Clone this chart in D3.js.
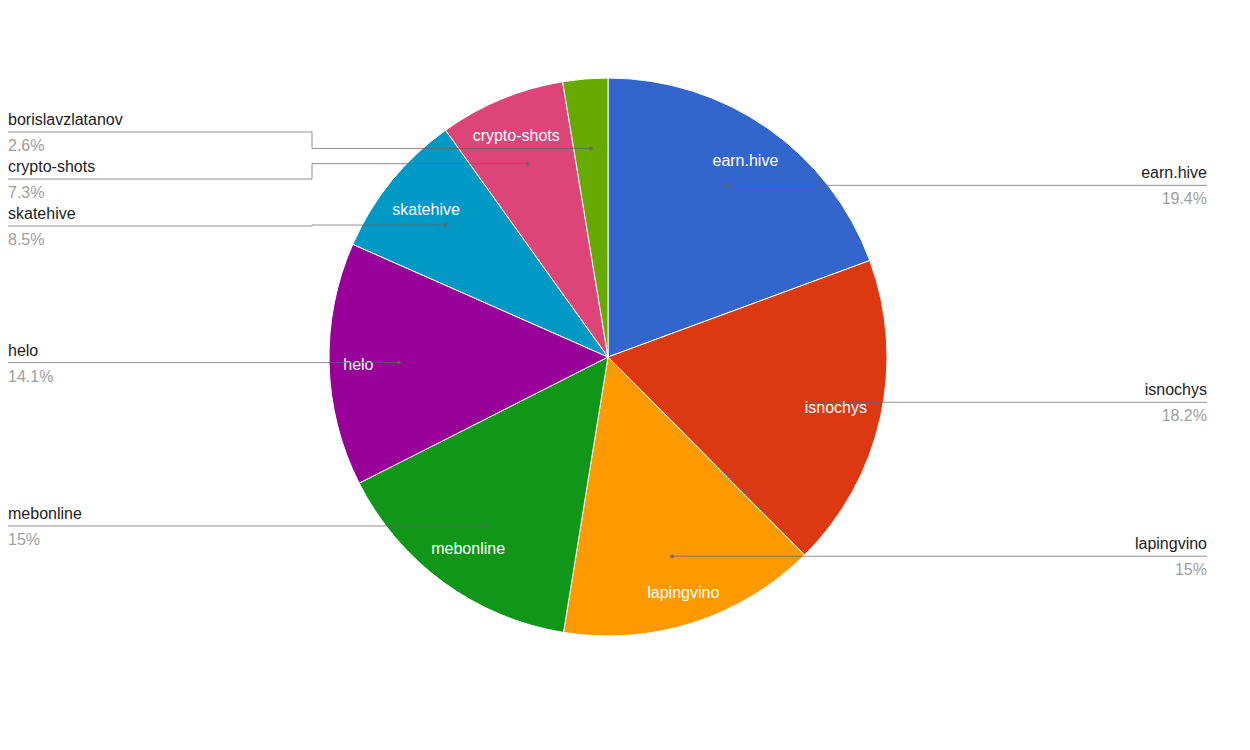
<!DOCTYPE html>
<html lang="en">
<head>
    <meta charset="UTF-8">
    <title>Pie</title>
    <script type="text/javascript" src="https://cdn.jsdelivr.net/npm/d3@7"></script>
    <style>
        body{
            margin: 0;
            background: #fff;
        }
        text{
            font-family: "Liberation Sans", Arial, sans-serif;
            font-size: 16px;
        }
        .name{
            fill: #222;
        }
        .pct{
            fill: #9e9e9e;
        }
        .inner{
            fill: #fff;
        }
        .leader{
            fill: none;
            stroke: #636363;
            stroke-opacity: 0.7;
        }
    </style>
</head>
<body>
<div id="chart"></div>
<script type="text/javascript">
    var names = ["earn.hive", "isnochys", "lapingvino", "mebonline", "helo", "skatehive", "crypto-shots", "borislavzlatanov"];
    var shares = [19.4, 18.2, 15, 15, 14.1, 8.5, 7.3, 2.6];
    var colors = ["#3366cc", "#dc3912", "#ff9900", "#109618", "#990099", "#0099c6", "#dd4477", "#66aa00"];

    var width = 1250, height = 750;
    var cx = 608, cy = 357, R = 279;
    var leftX = 8, rightX = 1207;
    var gap = 47;

    var svg = d3.select("#chart").append("svg")
            .attr("width", width)
            .attr("height", height);

    var data = names.map(function(n, i){
        return {name: n, value: shares[i], color: colors[i]};
    });

    var pie = d3.pie().sort(null).value(function(d){ return d.value; });
    var arcs = pie(data);
    var arc = d3.arc().innerRadius(0).outerRadius(R);

    var g = svg.append("g").attr("transform", "translate(" + cx + "," + cy + ")");

    g.selectAll("path.slice")
            .data(arcs)
            .enter()
            .append("path")
            .attr("class", "slice")
            .attr("d", arc)
            .attr("fill", function(d){ return d.data.color; })
            .attr("stroke", "#fff")
            .attr("stroke-width", 1);

    // anchor point for each leader line
    arcs.forEach(function(d){
        var a = (d.startAngle + d.endAngle) / 2;
        d.mid = a;
        d.dx = cx + Math.sin(a) * R * 0.75;
        d.dy = cy - Math.cos(a) * R * 0.75;
        d.side = d.dx < cx ? "left" : "right";
    });

    function spread(items){
        items.sort(function(a, b){ return a.dy - b.dy; });
        var groups = items.map(function(d){ return {members: [d], center: d.dy}; });
        var merged = true;
        while(merged){
            merged = false;
            for(var i = 0; i < groups.length - 1; i++){
                var a = groups[i], b = groups[i + 1];
                var aBottom = a.center + (a.members.length - 1) * gap / 2;
                var bTop = b.center - (b.members.length - 1) * gap / 2;
                if(bTop - aBottom < gap){
                    var m = a.members.concat(b.members);
                    groups.splice(i, 2, {members: m, center: d3.mean(m, function(d){ return d.dy; })});
                    merged = true;
                    break;
                }
            }
        }
        groups.forEach(function(gr){
            gr.members.forEach(function(d, k){
                d.ly = gr.center + (k - (gr.members.length - 1) / 2) * gap;
            });
        });
    }
    spread(arcs.filter(function(d){ return d.side == "left"; }));
    spread(arcs.filter(function(d){ return d.side == "right"; }));

    var elbowL = cx - R - 17, elbowR = cx + R + 17;

    svg.selectAll("path.leader")
            .data(arcs)
            .enter()
            .append("path")
            .attr("class", "leader")
            .attr("d", function(d){
                var p = d3.path();
                if(d.side == "left"){
                    p.moveTo(leftX, d.ly);
                    p.lineTo(elbowL, d.ly);
                } else {
                    p.moveTo(rightX, d.ly);
                    p.lineTo(elbowR, d.ly);
                }
                p.lineTo(d.side == "left" ? elbowL : elbowR, d.dy);
                p.lineTo(d.dx, d.dy);
                return p.toString();
            });

    svg.selectAll("circle.dot")
            .data(arcs)
            .enter()
            .append("circle")
            .attr("cx", function(d){ return d.dx; })
            .attr("cy", function(d){ return d.dy; })
            .attr("r", 2)
            .attr("fill", "#636363")
            .attr("fill-opacity", 0.8);

    // labels inside slices, pushed out until the far corner nears the rim
    var inner = g.selectAll("text.inner")
            .data(arcs.filter(function(d){ return d.data.value >= 5; }))
            .enter()
            .append("text")
            .attr("class", "inner")
            .attr("text-anchor", "middle")
            .text(function(d){ return d.data.name; });

    inner.each(function(d){
        var w = this.getComputedTextLength(), h = 12;
        var ux = Math.sin(d.mid), uy = -Math.cos(d.mid);
        var ox = (ux < 0 ? -1 : 1) * w / 2, oy = (uy < 0 ? -1 : 1) * h / 2;
        var lim = R * 0.95;
        var b = ux * ox + uy * oy, c = ox * ox + oy * oy - lim * lim;
        var dist = -b + Math.sqrt(b * b - c);
        d3.select(this)
                .attr("x", ux * dist)
                .attr("y", uy * dist + 6);
    });

    var outer = svg.selectAll("g.outer")
            .data(arcs)
            .enter()
            .append("g")
            .attr("class", "outer");

    outer.append("text")
            .attr("class", "name")
            .attr("x", function(d){ return d.side == "left" ? leftX : rightX; })
            .attr("y", function(d){ return d.ly - 7; })
            .attr("text-anchor", function(d){ return d.side == "left" ? "start" : "end"; })
            .text(function(d){ return d.data.name; });

    outer.append("text")
            .attr("class", "pct")
            .attr("x", function(d){ return d.side == "left" ? leftX : rightX; })
            .attr("y", function(d){ return d.ly + 19; })
            .attr("text-anchor", function(d){ return d.side == "left" ? "start" : "end"; })
            .text(function(d){ return d.data.value + "%"; });
</script>
</body>
</html>
